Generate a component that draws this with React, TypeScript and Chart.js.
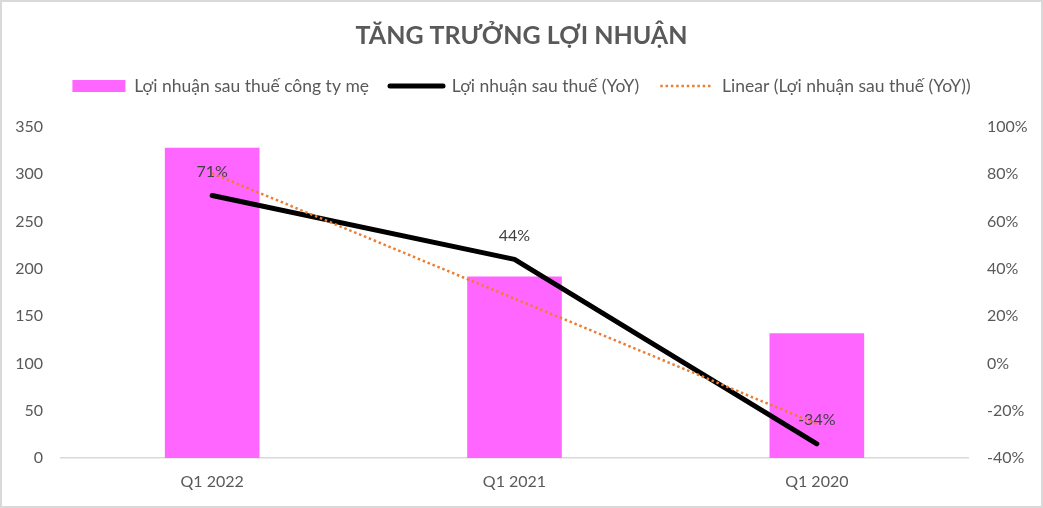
import React, { useEffect, useRef } from "react";
import { Chart, registerables } from "chart.js";

Chart.register(...registerables);

const chartTitle = "TĂNG TRƯỞNG LỢI NHUẬN";
const categories = ["Q1 2022", "Q1 2021", "Q1 2020"];
const profitValues = [328, 192, 132];
const yoyValues = [71, 44, -34];
const trendValues = [80.4, 27.4, -25.6];
const seriesNames = [
  "Lợi nhuận sau thuế công ty mẹ",
  "Lợi nhuận sau thuế (YoY)",
  "Linear (Lợi nhuận sau thuế (YoY))",
];

const FONT = "Lato";
const TEXT = "#595959";

const yoyLabelPlugin = {
  id: "yoyLabels",
  afterDatasetDraw(chart: any, args: any) {
    if (args.index !== 1) return;
    const ctx = chart.ctx;
    ctx.save();
    ctx.font = `16px ${FONT}`;
    ctx.fillStyle = "#404040";
    ctx.textAlign = "center";
    ctx.textBaseline = "middle";
    args.meta.data.forEach((pt: any, i: number) => {
      ctx.fillText(`${Math.round(yoyValues[i])}%`, pt.x, pt.y - 24);
    });
    ctx.restore();
  },
};

export default function App() {
  const ref = useRef<HTMLCanvasElement | null>(null);

  useEffect(() => {
    document.body.style.margin = "0";
    const canvas = ref.current;
    if (!canvas) return;
    const chart = new Chart(canvas, {
      type: "bar",
      data: {
        labels: categories,
        datasets: [
          {
            type: "bar",
            label: seriesNames[0],
            data: profitValues,
            backgroundColor: "#FF66FF",
            yAxisID: "y",
            barPercentage: 0.313,
            categoryPercentage: 1,
            order: 2,
          },
          {
            type: "line",
            label: seriesNames[1],
            data: yoyValues,
            borderColor: "#000000",
            borderWidth: 5,
            borderCapStyle: "round",
            borderJoinStyle: "round",
            pointRadius: 0,
            yAxisID: "y1",
            order: 1,
          },
          {
            type: "line",
            label: seriesNames[2],
            data: trendValues,
            borderColor: "#ED7D31",
            borderWidth: 2.5,
            borderDash: [2.5, 2.8],
            pointRadius: 0,
            yAxisID: "y1",
            order: 0,
          },
        ] as any,
      },
      options: {
        responsive: false,
        animation: false,
        layout: { padding: 0 },
        plugins: {
          title: {
            display: true,
            text: chartTitle,
            color: TEXT,
            font: { family: FONT, size: 25, weight: "bold" },
            padding: { top: 19, bottom: 5.25 },
          },
          subtitle: {
            display: true,
            text: " ",
            font: { size: 1 },
            padding: { top: 0, bottom: 21 },
            weight: 500,
          } as any,
          legend: {
            display: true,
            position: "top",
            labels: {
              color: TEXT,
              font: { family: FONT, size: 17.5 },
              usePointStyle: true,
              pointStyleWidth: 53,
              boxHeight: 12,
              padding: 21,
              generateLabels: () => [
                {
                  text: seriesNames[0],
                  fillStyle: "#FF66FF",
                  strokeStyle: "#FF66FF",
                  lineWidth: 0,
                  pointStyle: "rect",
                  fontColor: TEXT,
                  datasetIndex: 0,
                  hidden: false,
                },
                {
                  text: seriesNames[1],
                  fillStyle: "#000000",
                  strokeStyle: "#000000",
                  lineWidth: 5,
                  lineCap: "round",
                  pointStyle: "line",
                  fontColor: TEXT,
                  datasetIndex: 1,
                  hidden: false,
                },
                {
                  text: seriesNames[2],
                  fillStyle: "#ED7D31",
                  strokeStyle: "#ED7D31",
                  lineWidth: 2.5,
                  lineDash: [2.5, 2.8],
                  pointStyle: "line",
                  fontColor: TEXT,
                  datasetIndex: 2,
                  hidden: false,
                },
              ] as any,
            },
          },
          tooltip: { enabled: false },
        },
        scales: {
          x: {
            grid: { display: false, drawTicks: false },
            border: { display: true, color: "#D9D9D9", width: 1.5 },
            ticks: { color: TEXT, font: { family: FONT, size: 16 }, padding: 14 },
            afterFit: (s: any) => {
              s.height = 48;
            },
          },
          y: {
            position: "left",
            min: 0,
            max: 350,
            grid: { display: false, drawTicks: false },
            border: { display: false },
            ticks: { stepSize: 50, color: TEXT, font: { family: FONT, size: 16 }, padding: 18 },
            afterFit: (s: any) => {
              s.width = 59;
            },
          },
          y1: {
            position: "right",
            min: -40,
            max: 100,
            grid: { display: false, drawTicks: false },
            border: { display: false },
            ticks: {
              stepSize: 20,
              color: TEXT,
              font: { family: FONT, size: 16 },
              padding: 19,
              callback: (v: any) => `${v}%`,
            },
            afterFit: (s: any) => {
              s.width = 73;
            },
          },
        },
      } as any,
      plugins: [yoyLabelPlugin],
    });
    return () => chart.destroy();
  }, []);

  return (
    <div
      style={{
        width: 1043,
        height: 508,
        boxSizing: "border-box",
        border: "2px solid #D9D9D9",
        background: "#FFFFFF",
      }}
    >
      <canvas ref={ref} width={1039} height={504} style={{ display: "block", width: 1039, height: 504 }} />
    </div>
  );
}
